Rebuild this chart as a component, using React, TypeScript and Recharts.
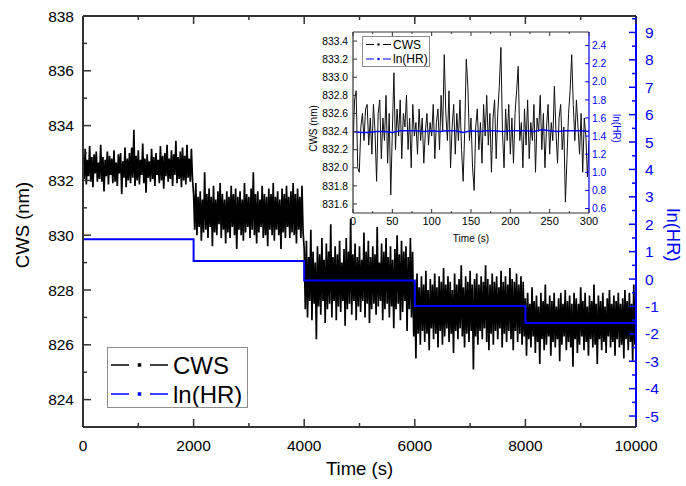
import React from 'react';
import { LineChart, Line, XAxis, YAxis } from 'recharts';

const FONT = '"Liberation Sans", Arial, Helvetica, sans-serif';
const BLUE = '#0000ff';
const AXIS = '#333333';

// ---------- main chart data ----------
const SAMPLE_STEP_S = 20;
const CWS_SEG1 = [
  832.95, 832.05, 833.15, 831.85, 832.75, 832.15, 833.25, 831.95, 832.85, 831.75,
  832.95, 832.25, 833.05, 831.95, 832.65, 832.05, 833.3, 831.95, 832.85, 831.6,
  832.75, 832.15, 833.05, 831.85, 832.9, 832.2, 832.8, 831.9, 833.1, 831.95,
  832.65, 831.8, 832.95, 832.25, 833.0, 831.5, 832.7, 832.1, 833.2, 831.75,
  832.8, 832.0, 833.0, 831.9, 833.2, 832.1, 833.85, 831.8, 832.9, 832.0,
  833.1, 831.85, 832.75, 832.2, 833.35, 831.9, 832.8, 831.55, 832.95, 832.1,
  832.7, 831.95, 833.15, 832.05, 832.85, 831.8, 833.0, 832.2, 832.75, 831.9,
  833.25, 832.0, 832.9, 831.7, 833.0, 832.15, 833.3, 831.95, 832.8, 832.05,
  833.1, 831.8, 832.95, 832.2, 833.45, 831.9, 832.85, 832.05, 833.05, 831.75,
  833.2, 832.0, 832.9, 831.85, 833.3, 832.1, 832.8, 831.95, 833.15, 832.05,
];
const CWS_SEG2 = [
  831.5, 830.2, 831.9, 830.0, 831.4, 830.3, 831.6, 829.8, 831.3, 830.1,
  832.3, 830.2, 831.5, 829.9, 831.7, 830.3, 831.4, 829.6, 831.8, 830.1,
  831.3, 830.0, 831.6, 830.4, 831.9, 829.9, 831.5, 830.2, 831.3, 829.7,
  831.6, 830.1, 831.4, 829.9, 831.8, 830.3, 831.5, 830.0, 831.7, 829.5,
  831.4, 830.2, 831.6, 830.0, 831.3, 829.8, 831.9, 830.1, 831.5, 830.3,
  831.4, 829.9, 831.7, 830.2, 832.3, 830.0, 831.5, 829.7, 831.6, 830.1,
  831.3, 830.3, 831.8, 829.9, 831.5, 830.0, 831.4, 829.6, 831.7, 830.2,
  831.5, 830.0, 831.9, 829.8, 831.4, 830.2, 831.6, 830.0, 831.3, 829.5,
  831.7, 830.1, 831.5, 829.9, 831.8, 830.3, 831.4, 829.9, 831.6, 830.1,
  831.9, 830.0, 831.5, 829.7, 831.7, 830.2, 831.4, 829.9, 831.8, 830.1,
];
const CWS_SEG3 = [
  829.5, 827.3, 829.8, 827.0, 829.2, 827.6, 830.2, 826.9, 829.4, 827.5,
  829.0, 826.2, 829.6, 827.4, 829.3, 827.1, 829.9, 827.6, 829.1, 826.8,
  829.7, 827.3, 829.4, 827.5, 830.4, 827.0, 829.2, 827.6, 829.6, 826.9,
  829.3, 827.4, 829.8, 827.2, 829.0, 827.6, 829.5, 826.7, 829.9, 827.3,
  829.4, 827.5, 830.6, 827.1, 829.3, 827.6, 829.7, 826.9, 829.2, 827.4,
  829.6, 827.2, 829.1, 827.6, 830.1, 827.0, 829.4, 827.5, 829.8, 826.8,
  829.2, 827.3, 829.6, 827.5, 829.3, 827.1, 830.3, 827.4, 829.0, 827.6,
  829.7, 826.9, 829.4, 827.3, 829.9, 827.5, 829.2, 827.0, 829.6, 827.4,
  829.1, 826.6, 829.5, 827.3, 830.0, 827.5, 829.3, 826.9, 829.8, 827.2,
  829.4, 827.6, 829.6, 826.5, 829.2, 827.3, 829.9, 827.0, 829.4, 826.3,
];
const CWS_SEG4 = [
  828.3, 825.5, 828.6, 826.4, 828.1, 826.0, 828.5, 826.5, 828.2, 826.1,
  828.7, 826.4, 828.0, 825.8, 828.4, 826.6, 828.2, 826.2, 828.6, 826.4,
  828.1, 825.9, 828.5, 826.5, 828.3, 826.0, 828.8, 826.3, 828.2, 826.6,
  828.5, 826.1, 828.3, 826.4, 828.0, 825.7, 828.6, 826.5, 828.2, 826.2,
  828.4, 826.6, 828.9, 826.3, 828.1, 825.9, 828.5, 826.4, 828.3, 826.1,
  828.7, 826.5, 828.2, 825.1, 828.4, 826.3, 828.6, 826.0, 828.2, 826.5,
  828.5, 826.2, 828.3, 826.6, 828.9, 826.1, 828.4, 825.8, 828.2, 826.4,
  828.6, 826.0, 828.3, 826.5, 828.5, 826.2, 828.1, 826.6, 828.7, 825.9,
  828.3, 826.4, 828.5, 826.1, 828.2, 826.5, 828.8, 826.2, 828.4, 825.8,
  828.3, 826.5, 828.6, 826.1, 828.2, 826.4, 828.5, 826.0, 828.3, 826.3,
];
const CWS_SEG5 = [
  827.7, 825.6, 827.9, 826.2, 827.5, 825.9, 828.1, 826.3, 827.6, 825.7,
  827.8, 826.1, 827.4, 825.3, 827.9, 826.2, 827.6, 825.8, 828.2, 826.0,
  827.5, 826.3, 827.8, 825.6, 827.6, 826.1, 827.9, 825.9, 827.4, 826.2,
  827.7, 825.4, 827.9, 826.0, 827.5, 826.3, 828.0, 825.8, 827.6, 826.1,
  827.8, 825.9, 827.5, 825.2, 827.9, 826.2, 827.7, 825.7, 827.5, 826.0,
  828.1, 826.3, 827.6, 825.8, 827.9, 826.1, 827.4, 825.6, 827.8, 826.2,
  827.6, 825.9, 828.2, 826.0, 827.5, 825.3, 827.8, 826.2, 827.6, 825.8,
  827.9, 826.1, 827.4, 825.7, 827.7, 826.3, 828.0, 825.9, 827.5, 826.1,
  827.8, 825.6, 827.6, 826.2, 827.9, 825.9, 827.5, 826.0, 827.7, 825.5,
  828.0, 826.2, 827.6, 825.8, 827.9, 826.1, 827.5, 825.4, 828.2, 826.0,
];
const CWS_END = [827.2];

const HR_STEP_TIMES = [0, 2000, 4000, 6000, 8000, 10000];
const HR_LEVELS = [1.45, 0.66, -0.05, -0.98, -1.6, -1.6];

const MAIN_X_TICKS = [0, 1000, 2000, 3000, 4000, 5000, 6000, 7000, 8000, 9000, 10000];
const MAIN_Y_TICKS = [824, 825, 826, 827, 828, 829, 830, 831, 832, 833, 834, 835, 836, 837, 838];
const MAIN_R_TICKS = [-5, -4.5, -4, -3.5, -3, -2.5, -2, -1.5, -1, -0.5, 0, 0.5, 1, 1.5, 2, 2.5, 3, 3.5, 4, 4.5, 5, 5.5, 6, 6.5, 7, 7.5, 8, 8.5, 9, 9.5];

// ---------- inset data ----------
const INSET_STEP_S = 2;
const INSET_CWS = [
  832.2, 832.75, 832.85, 832.0, 831.95, 832.45, 832.6, 832.3, 832.65, 832.7,
  832.25, 832.55, 832.15, 832.7, 832.4, 831.85, 832.6, 832.75, 832.1, 832.55,
  832.3, 832.8, 832.05, 832.6, 831.7, 832.4, 833.05, 832.2, 832.65, 832.35,
  832.75, 832.1, 832.6, 832.45, 832.8, 832.2, 832.55, 832.0, 832.7, 832.35,
  832.5, 832.15, 832.65, 832.3, 832.55, 832.05, 832.4, 832.6, 832.25, 832.5,
  832.35, 832.7, 832.1, 832.5, 832.65, 832.2, 832.8, 832.4, 833.25, 832.6,
  832.3, 832.85, 832.0, 832.45, 832.7, 832.15, 832.6, 832.3, 832.75, 832.2,
  831.85, 832.4, 833.2, 832.9, 832.3, 832.55, 832.0, 831.75, 832.45, 832.65,
  832.2, 832.5, 832.05, 832.7, 832.35, 832.8, 832.25, 832.6, 831.95, 832.55,
  832.75, 832.1, 832.6, 832.9, 833.33, 832.4, 832.0, 832.65, 832.3, 832.7,
  832.15, 832.55, 832.05, 832.6, 832.85, 833.12, 832.3, 832.5, 832.0, 832.65,
  832.25, 832.75, 832.1, 832.5, 832.3, 832.7, 831.95, 832.55, 832.4, 832.8,
  832.2, 832.6, 832.0, 832.45, 832.7, 832.15, 832.5, 832.3, 832.9, 832.4,
  832.05, 832.55, 832.7, 832.2, 832.45, 831.62, 832.1, 832.6, 832.85, 833.25,
  832.7, 832.3, 832.75, 832.45, 832.15, 832.6, 831.95, 832.55, 832.35, 831.9,
  832.3,
];
const INSET_HR_STEP_S = 10;
const INSET_HR = [
  1.45, 1.44, 1.44, 1.45, 1.45, 1.44, 1.46, 1.46, 1.46, 1.45,
  1.46, 1.45, 1.46, 1.46, 1.44, 1.46, 1.45, 1.46, 1.46, 1.45,
  1.46, 1.46, 1.46, 1.45, 1.47, 1.46, 1.45, 1.46, 1.46, 1.46,
  1.45,
];
const INSET_X_TICKS = [0, 25, 50, 75, 100, 125, 150, 175, 200, 225, 250, 275, 300];
const INSET_Y_TICKS = [831.6, 831.8, 832.0, 832.2, 832.4, 832.6, 832.8, 833.0, 833.2, 833.4];
const INSET_R_TICKS = [0.6, 0.8, 1.0, 1.2, 1.4, 1.6, 1.8, 2.0, 2.2, 2.4];

// ---------- build series ----------
const mainCwsData = [...CWS_SEG1, ...CWS_SEG2, ...CWS_SEG3, ...CWS_SEG4, ...CWS_SEG5, ...CWS_END].map(
  (v, i) => ({ t: i * SAMPLE_STEP_S, cws: v })
);
const mainHrData = HR_STEP_TIMES.map((t, i) => ({ t, hr: HR_LEVELS[i] }));
const insetCwsData = INSET_CWS.map((v, i) => ({ t: i * INSET_STEP_S, cws: v }));
const insetHrData = INSET_HR.map((v, i) => ({ t: i * INSET_HR_STEP_S, hr: v }));

type TickOpts = {
  orient: 'bottom' | 'top' | 'left' | 'right';
  margin: number;
  isMajor: (v: number) => boolean;
  majorLen: number;
  minorLen: number;
  lineColor: string;
  lineWidth: number;
  showLabel: boolean;
  fontSize: number;
  textColor: string;
  fmt: (v: number) => string;
};

function makeTick(o: TickOpts) {
  return (props: any) => {
    const { x, y, payload } = props;
    const v = payload.value as number;
    const major = o.isMajor(v);
    const len = major ? o.majorLen : o.minorLen;
    let line: React.ReactNode = null;
    let text: React.ReactNode = null;
    const tstyle = { fontFamily: FONT, fontSize: o.fontSize, fill: o.textColor };
    if (o.orient === 'bottom') {
      const ay = y - o.margin;
      line = <line x1={x} x2={x} y1={ay} y2={ay - len} stroke={o.lineColor} strokeWidth={o.lineWidth} />;
      if (o.showLabel && major)
        text = <text x={x} y={y} dy="0.71em" textAnchor="middle" style={tstyle}>{o.fmt(v)}</text>;
    } else if (o.orient === 'top') {
      const ay = y + o.margin;
      line = <line x1={x} x2={x} y1={ay} y2={ay + len} stroke={o.lineColor} strokeWidth={o.lineWidth} />;
    } else if (o.orient === 'left') {
      const ax = x + o.margin;
      line = <line x1={ax} x2={ax + len} y1={y} y2={y} stroke={o.lineColor} strokeWidth={o.lineWidth} />;
      if (o.showLabel && major)
        text = <text x={x} y={y} dy="0.36em" textAnchor="end" style={tstyle}>{o.fmt(v)}</text>;
    } else {
      const ax = x - o.margin;
      line = <line x1={ax} x2={ax - len} y1={y} y2={y} stroke={o.lineColor} strokeWidth={o.lineWidth} />;
      if (o.showLabel && major)
        text = <text x={x} y={y} dy="0.36em" textAnchor="start" style={tstyle}>{o.fmt(v)}</text>;
    }
    return (
      <g>
        {line}
        {text}
      </g>
    );
  };
}

function LegendBox({
  left, top, width, height, fontSize, rowY, textX, sampleX, sampleDash, dotSize, strokeW,
}: any) {
  const rows = [
    { label: 'CWS', color: '#000000' },
    { label: 'ln(HR)', color: BLUE },
  ];
  const [a, b] = sampleX;
  const mid = (a + b) / 2;
  return (
    <div
      style={{
        position: 'absolute', left, top, width, height, boxSizing: 'border-box',
        border: '1px solid #8c8c8c', background: '#ffffff',
      }}
    >
      <svg width={width - 2} height={height - 2} style={{ position: 'absolute', left: 0, top: 0 }}>
        {rows.map((r, i) => (
          <g key={r.label}>
            <line x1={a} x2={a + sampleDash} y1={rowY[i]} y2={rowY[i]} stroke={r.color} strokeWidth={strokeW} />
            <rect x={mid - dotSize / 2} y={rowY[i] - dotSize / 2} width={dotSize} height={dotSize} fill={r.color} />
            <line x1={b - sampleDash} x2={b} y1={rowY[i]} y2={rowY[i]} stroke={r.color} strokeWidth={strokeW} />
            <text x={textX} y={rowY[i]} dy="0.36em" style={{ fontFamily: FONT, fontSize, fill: '#000' }}>
              {r.label}
            </text>
          </g>
        ))}
      </svg>
    </div>
  );
}

export default function App() {
  const M_TOP_AXIS_H = 16;
  const M_BOTTOM_AXIS_H = 59;
  const M_LEFT_W = 83;
  const M_RIGHT_W = 50;

  const mainBottomTick = makeTick({
    orient: 'bottom', margin: 12.5, isMajor: (v) => v % 2000 === 0, majorLen: 8, minorLen: 4,
    lineColor: AXIS, lineWidth: 1.5, showLabel: true, fontSize: 15.5, textColor: '#000', fmt: (v) => String(v),
  });
  const mainTopTick = makeTick({
    orient: 'top', margin: 0, isMajor: (v) => v % 2000 === 0, majorLen: 8, minorLen: 4,
    lineColor: AXIS, lineWidth: 1.5, showLabel: false, fontSize: 15.5, textColor: '#000', fmt: (v) => String(v),
  });
  const mainLeftTick = makeTick({
    orient: 'left', margin: 9, isMajor: (v) => v % 2 === 0, majorLen: 8, minorLen: 4,
    lineColor: AXIS, lineWidth: 1.5, showLabel: true, fontSize: 15.5, textColor: '#000', fmt: (v) => String(v),
  });
  const mainRightTick = makeTick({
    orient: 'right', margin: 9, isMajor: (v) => Number.isInteger(v), majorLen: 7, minorLen: 4,
    lineColor: BLUE, lineWidth: 1.5, showLabel: true, fontSize: 15.5, textColor: BLUE, fmt: (v) => String(v),
  });

  const insetBottomTick = makeTick({
    orient: 'bottom', margin: 4.5, isMajor: (v) => v % 50 === 0, majorLen: 4, minorLen: 2,
    lineColor: AXIS, lineWidth: 1, showLabel: true, fontSize: 11, textColor: '#000', fmt: (v) => String(v),
  });
  const insetTopTick = makeTick({
    orient: 'top', margin: 0, isMajor: (v) => v % 50 === 0, majorLen: 4, minorLen: 2,
    lineColor: AXIS, lineWidth: 1, showLabel: false, fontSize: 11, textColor: '#000', fmt: (v) => String(v),
  });
  const insetLeftTick = makeTick({
    orient: 'left', margin: 5, isMajor: () => true, majorLen: 4, minorLen: 2,
    lineColor: AXIS, lineWidth: 1, showLabel: true, fontSize: 10.3, textColor: '#000', fmt: (v) => v.toFixed(1),
  });
  const insetRightTick = makeTick({
    orient: 'right', margin: 3, isMajor: () => true, majorLen: 4, minorLen: 2,
    lineColor: BLUE, lineWidth: 1, showLabel: true, fontSize: 10.3, textColor: BLUE, fmt: (v) => v.toFixed(1),
  });

  return (
    <div style={{ position: 'absolute', left: 0, top: 0, width: 686, height: 486, background: '#fff' }}>
      <LineChart width={686} height={486} margin={{ top: 0, right: 0, bottom: 0, left: 0 }}>
        <XAxis
          xAxisId="b" dataKey="t" type="number" domain={[0, 10000]} ticks={MAIN_X_TICKS} interval={0}
          height={M_BOTTOM_AXIS_H} tickSize={0} tickMargin={12.5} tickLine={false}
          axisLine={{ stroke: AXIS, strokeWidth: 2 }} tick={mainBottomTick} allowDataOverflow
          label={({ viewBox }: any) => (
            <text
              x={viewBox.x + viewBox.width / 2} y={viewBox.y + 41} dy="0.36em" textAnchor="middle"
              style={{ fontFamily: FONT, fontSize: 18.5, fill: '#000' }}
            >
              Time (s)
            </text>
          )}
        />
        <XAxis
          xAxisId="t" orientation="top" dataKey="t" type="number" domain={[0, 10000]} ticks={MAIN_X_TICKS}
          interval={0} height={M_TOP_AXIS_H} tickSize={0} tickMargin={0} tickLine={false}
          axisLine={{ stroke: AXIS, strokeWidth: 2 }} tick={mainTopTick} allowDataOverflow
        />
        <YAxis
          yAxisId="l" type="number" domain={[823, 838]} ticks={MAIN_Y_TICKS} interval={0} width={M_LEFT_W}
          tickSize={0} tickMargin={9} tickLine={false} axisLine={{ stroke: AXIS, strokeWidth: 2 }}
          tick={mainLeftTick} allowDataOverflow
          label={({ viewBox }: any) => {
            const cx = viewBox.x + 22;
            const cy = viewBox.y + viewBox.height / 2 + 3.5;
            return (
              <text
                x={cx} y={cy} dy="0.36em" textAnchor="middle" transform={`rotate(-90, ${cx}, ${cy})`}
                style={{ fontFamily: FONT, fontSize: 18.5, fill: '#000' }}
              >
                CWS (nm)
              </text>
            );
          }}
        />
        <YAxis
          yAxisId="r" orientation="right" type="number" domain={[-5.4, 9.6]} ticks={MAIN_R_TICKS} interval={0}
          width={M_RIGHT_W} tickSize={0} tickMargin={9} tickLine={false}
          axisLine={{ stroke: BLUE, strokeWidth: 2 }} tick={mainRightTick} allowDataOverflow
          label={({ viewBox }: any) => {
            const cx = viewBox.x + 38;
            const cy = viewBox.y + viewBox.height / 2 + 13.5;
            return (
              <text
                x={cx} y={cy} dy="0.36em" textAnchor="middle" transform={`rotate(90, ${cx}, ${cy})`}
                style={{ fontFamily: FONT, fontSize: 18.5, fill: BLUE }}
              >
                ln(HR)
              </text>
            );
          }}
        />
        <Line
          xAxisId="b" yAxisId="l" data={mainCwsData} dataKey="cws" type="linear" stroke="#000"
          strokeWidth={1.7} dot={false} isAnimationActive={false}
        />
        <Line
          xAxisId="b" yAxisId="r" data={mainHrData} dataKey="hr" type="stepAfter" stroke={BLUE}
          strokeWidth={2} dot={false} isAnimationActive={false}
        />
      </LineChart>

      <div style={{ position: 'absolute', left: 300, top: 24 }}>
        <LineChart width={330} height={226} margin={{ top: 0, right: 0, bottom: 0, left: 0 }}>
          <XAxis
            xAxisId="b" dataKey="t" type="number" domain={[0, 300]} ticks={INSET_X_TICKS} interval={0}
            height={37} tickSize={0} tickMargin={4.5} tickLine={false}
            axisLine={{ stroke: AXIS, strokeWidth: 1.2 }} tick={insetBottomTick} allowDataOverflow
            label={({ viewBox }: any) => (
              <text
                x={viewBox.x + viewBox.width / 2} y={viewBox.y + 25} dy="0.36em" textAnchor="middle"
                style={{ fontFamily: FONT, fontSize: 10, fill: '#000' }}
              >
                Time (s)
              </text>
            )}
          />
          <XAxis
            xAxisId="t" orientation="top" dataKey="t" type="number" domain={[0, 300]} ticks={INSET_X_TICKS}
            interval={0} height={8} tickSize={0} tickMargin={0} tickLine={false}
            axisLine={{ stroke: AXIS, strokeWidth: 1.2 }} tick={insetTopTick} allowDataOverflow
          />
          <YAxis
            yAxisId="l" type="number" domain={[831.5, 833.5]} ticks={INSET_Y_TICKS} interval={0} width={53}
            tickSize={0} tickMargin={5} tickLine={false} axisLine={{ stroke: AXIS, strokeWidth: 1.2 }}
            tick={insetLeftTick} allowDataOverflow
            label={({ viewBox }: any) => {
              const cx = viewBox.x + 13;
              const cy = viewBox.y + viewBox.height / 2 + 6;
              return (
                <text
                  x={cx} y={cy} dy="0.36em" textAnchor="middle" transform={`rotate(-90, ${cx}, ${cy})`}
                  style={{ fontFamily: FONT, fontSize: 10, fill: '#000' }}
                >
                  CWS (nm)
                </text>
              );
            }}
          />
          <YAxis
            yAxisId="r" orientation="right" type="number" domain={[0.55, 2.55]} ticks={INSET_R_TICKS} interval={0}
            width={41} tickSize={0} tickMargin={3} tickLine={false}
            axisLine={{ stroke: BLUE, strokeWidth: 1.2 }} tick={insetRightTick} allowDataOverflow
            label={({ viewBox }: any) => {
              const cx = viewBox.x + 28;
              const cy = viewBox.y + viewBox.height / 2 + 6;
              return (
                <text
                  x={cx} y={cy} dy="0.36em" textAnchor="middle" transform={`rotate(90, ${cx}, ${cy})`}
                  style={{ fontFamily: FONT, fontSize: 10, fill: BLUE }}
                >
                  ln(HR)
                </text>
              );
            }}
          />
          <Line
            xAxisId="b" yAxisId="l" data={insetCwsData} dataKey="cws" type="linear" stroke="#111"
            strokeWidth={1} dot={false} isAnimationActive={false}
          />
          <Line
            xAxisId="b" yAxisId="r" data={insetHrData} dataKey="hr" type="linear" stroke={BLUE}
            strokeWidth={1.5} dot={false} isAnimationActive={false}
          />
        </LineChart>
      </div>

      <LegendBox
        left={107} top={347} width={141} height={61} fontSize={24} rowY={[17, 46]} textX={65}
        sampleX={[3, 60]} sampleDash={18} dotSize={3.5} strokeW={1.5}
      />
      <LegendBox
        left={362} top={36} width={68} height={31} fontSize={12} rowY={[7.5, 22]} textX={30}
        sampleX={[3, 28]} sampleDash={8} dotSize={2.2} strokeW={1}
      />
    </div>
  );
}
